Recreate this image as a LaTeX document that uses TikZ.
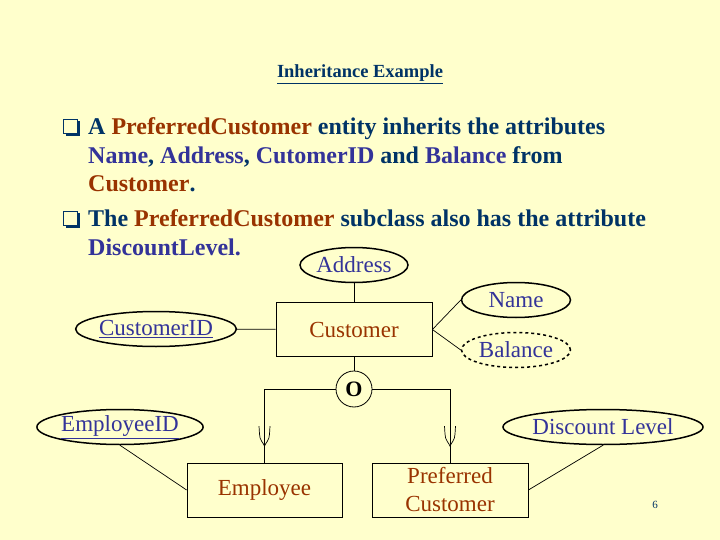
\documentclass[tikz,border=0pt]{standalone}
\usepackage{fontspec}
\setmainfont{Liberation Serif}
\usetikzlibrary{shapes.geometric,positioning}

\definecolor{slidebg}{HTML}{FFFFCC}
\definecolor{navytext}{HTML}{003366}
\definecolor{entitybrown}{HTML}{993300}
\definecolor{attrblue}{HTML}{333399}

\newcommand{\ent}[1]{\textcolor{entitybrown}{#1}}
\newcommand{\att}[1]{\textcolor{attrblue}{#1}}

\begin{document}
\begin{tikzpicture}[x=1pt,y=-1pt,
		entity/.style={rectangle, draw, line width=0.8pt, align=center, inner sep=0pt,
			minimum width=156pt, minimum height=54pt, text=entitybrown,
			font=\fontsize{23}{28}\selectfont},
		attr/.style={ellipse, draw, line width=1.5pt, inner sep=0pt,
			minimum height=35pt, text=attrblue, font=\fontsize{23}{28}\selectfont},
		disjoint/.style={circle, draw, line width=0.8pt, inner sep=0pt,
			minimum size=36pt, font=\fontsize{22}{24}\selectfont\bfseries},
		link/.style={line width=0.7pt},
		bullet/.style={anchor=base west, align=left, inner sep=0pt, text=navytext,
			font=\fontsize{24}{28.5}\selectfont\bfseries},
		subsetmark/.pic={
			\draw[line width=0.7pt] (-5.5,-10) -- (-5,-2) .. controls (-5,4) and (-1,7) .. (0,10)
				.. controls (1,7) and (5,4) .. (5,-2) -- (5.5,-10);
		},
		qbox/.pic={
			\fill[navytext] (2.5,-11.5) rectangle (17,3);
			\fill[slidebg] (0,-14) rectangle (14,0);
			\draw[navytext, line width=0.8pt] (0,-14) rectangle (14,0);
		}
		]
		% slide
		\fill[slidebg] (0,0) rectangle (720,540);
		\useasboundingbox (0,0) rectangle (720,540);
		
		\node[anchor=base, text=navytext, font=\fontsize{18.5}{20}\selectfont\bfseries]
			(title) at (360,78) {\underline{Inheritance Example}};
		
		% bullets (base = last line)
		\pic at (63,133) {qbox};
		\node[bullet] (p1) at (88,192) {A \ent{PreferredCustomer} entity inherits the attributes\\
			\att{Name}, \att{Address}, \att{CutomerID} and \att{Balance} from\\
			\ent{Customer}.};
		\pic at (63,225) {qbox};
		\node[bullet] (p2) at (88,255) {The \ent{PreferredCustomer} subclass also has the attribute\\
			\att{DiscountLevel.}};
		
		% EER diagram
		\node[entity] (cust) at (354,329.5) {Customer};
		\node[attr, minimum width=108pt] (addr) at (354,265) {Address};
		\node[attr, minimum width=157pt] (cid) at (156,329) {\underline{CustomerID}};
		\node[attr, minimum width=109pt] (name) at (516,300) {Name};
		\node[attr, dashed, minimum width=109pt] (bal) at (516,350) {Balance};
		
		\node[disjoint] (disj) at (354,389) {O};
		
		\node[entity, minimum width=155pt] (emp) at (264.5,490) {Employee};
		\node[entity] (pref) at (450,490) {Preferred\\Customer};
		\node[attr, minimum width=156pt] (eid) at (120,427) {\underline{EmployeeID}};
		\node[attr, minimum width=200pt] (dlev) at (603,427) {Discount Level};
		
		\draw[link] (addr) -- (cust);
		\draw[link] (cid) -- (cust);
		\draw[link] (cust.east) -- (name.west);
		\draw[link] (cust.east) -- (bal.west);
		\draw[link] (cust) -- (disj);
		\draw[link] (disj.west) -| (emp.north) pic[pos=0.82] {subsetmark};
		\draw[link] (disj.east) -| (pref.north) pic[pos=0.82] {subsetmark};
		\draw[link] (eid.south) -- (emp.west);
		\draw[link] (dlev.south) -- (pref.east);
		
		\node[text=navytext, font=\fontsize{11}{12}\selectfont] (pnum) at (655,505) {6};
\end{tikzpicture}
\end{document}
